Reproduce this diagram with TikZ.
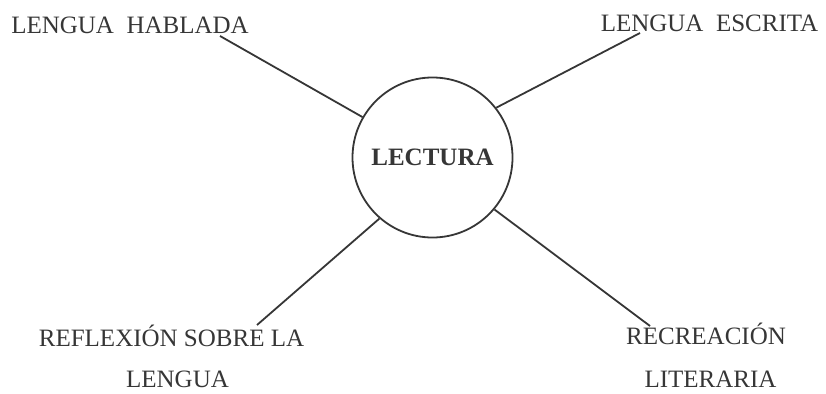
\documentclass[tikz,border=0pt]{standalone}
\usepackage{fontspec}
\setmainfont{Liberation Serif}
\usepackage{tikz}
\usetikzlibrary{positioning}
\definecolor{ink}{HTML}{363636}

\begin{document}
\begin{tikzpicture}[x=1pt, y=-1pt,
    word/.style={text=ink, inner sep=0, anchor=base, font=\fontsize{25}{30}\selectfont},
    link/.style={draw=ink, line width=1.8}]
    \useasboundingbox (0,0) rectangle (826,393);
    % nodes %
    \node[circle, draw=ink, line width=1.8, minimum size=160, inner sep=0, text=ink,
      font=\fontsize{25}{30}\selectfont\bfseries] (lectura) at (432.5,157.5) {LECTURA};
    \node[word] (hablada) at (130,34) {LENGUA\enspace HABLADA};
    \node[word] (escrita) at (709.5,32) {LENGUA\enspace ESCRITA};
    \node[word] (reflexion) at (171.5,346) {REFLEXIÓN SOBRE LA};
    \node[word] (lengua) at (177.5,387) {LENGUA};
    \node[word] (recreacion) at (706,344) {RECREACIÓN};
    \node[word] (literaria) at (710.5,387) {LITERARIA};
    % line ends %
    \coordinate (hablada end) at (220,36);
    \coordinate (escrita end) at (640,33);
    \coordinate (reflexion end) at (257,325);
    \coordinate (recreacion end) at (650,326);
    % edges %
    \draw[link] (lectura.150) -- (hablada end);
    \draw[link] (lectura.38) -- (escrita end);
    \draw[link] (lectura.-131) -- (reflexion end);
    \draw[link] (lectura.-40) -- (recreacion end);
\end{tikzpicture}
\end{document}
